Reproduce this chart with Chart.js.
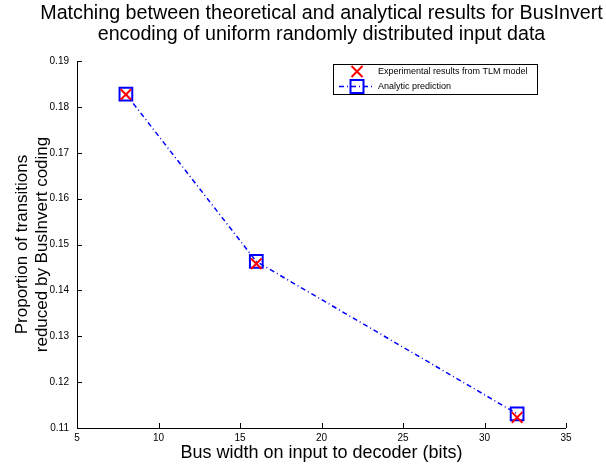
<!DOCTYPE html>
<html>
<head>
<meta charset="utf-8">
<script src="https://cdn.jsdelivr.net/npm/chart.js@4.4.0/dist/chart.umd.min.js"></script>
<style>
html,body{margin:0;padding:0;background:#fff;}
#wrap{width:606px;height:464px;}
</style>
</head>
<body>
<div id="wrap"><canvas id="c" width="606" height="464"></canvas></div>
<script>
const busWidths = [8, 16, 32];
const experimental = [0.1827, 0.1458, 0.1123];
const analytic = [0.1828, 0.1463, 0.1131];
const xTicks = [5, 10, 15, 20, 25, 30, 35];
const yTicks = [0.11, 0.12, 0.13, 0.14, 0.15, 0.16, 0.17, 0.18, 0.19];
const titleLines = ['Matching between theoretical and analytical results for BusInvert', 'encoding of uniform randomly distributed input data'];
const xLabel = 'Bus width on input to decoder (bits)';
const yLabel = ['Proportion of transitions', 'reduced by BusInvert coding'];
const legendLabels = ['Experimental results from TLM model', 'Analytic prediction'];

const FONT = 'Liberation Sans, Arial, Helvetica, sans-serif';

const decorations = {
  id: 'decorations',
  afterDraw(chart) {
    const {ctx, chartArea: a, scales: {x, y}} = chart;
    ctx.save();
    // title centred over the axes
    ctx.fillStyle = '#000';
    ctx.font = '19.7px ' + FONT;
    ctx.textAlign = 'center';
    ctx.textBaseline = 'middle';
    const cx = (a.left + a.right) / 2;
    ctx.fillText(titleLines[0], cx, 14);
    ctx.fillText(titleLines[1], cx, 34.5);

    ctx.strokeStyle = '#000';
    ctx.lineWidth = 1;
    ctx.beginPath();
    ctx.moveTo(a.left + 0.5, a.top);
    ctx.lineTo(a.left + 0.5, a.bottom + 0.5);
    ctx.lineTo(a.right, a.bottom + 0.5);
    xTicks.forEach(v => {
      const px = Math.round(x.getPixelForValue(v)) + 0.5;
      ctx.moveTo(px, a.bottom);
      ctx.lineTo(px, a.bottom - 5);
    });
    yTicks.forEach(v => {
      const py = Math.round(y.getPixelForValue(v)) + 0.5;
      ctx.moveTo(a.left, py);
      ctx.lineTo(a.left + 5, py);
    });
    ctx.stroke();
    // legend
    const lx = 333, ly = 64, lw = 204, lh = 30;
    ctx.fillStyle = '#fff';
    ctx.fillRect(lx, ly, lw, lh);
    ctx.strokeRect(lx + 0.5, ly + 0.5, lw, lh);
    ctx.font = '9px ' + FONT;
    ctx.fillStyle = '#000';
    ctx.textBaseline = 'middle';
    ctx.textAlign = 'left';
    const r1 = ly + 7.5, r2 = ly + 22.5;
    const mx = lx + 24;
    ctx.strokeStyle = '#ff0000';
    ctx.lineWidth = 2;
    ctx.beginPath();
    ctx.moveTo(mx - 5.5, r1 - 5.5); ctx.lineTo(mx + 5.5, r1 + 5.5);
    ctx.moveTo(mx + 5.5, r1 - 5.5); ctx.lineTo(mx - 5.5, r1 + 5.5);
    ctx.stroke();
    ctx.strokeStyle = '#0000ff';
    ctx.lineWidth = 1.5;
    ctx.setLineDash([5, 3, 1, 3]);
    ctx.beginPath();
    ctx.moveTo(lx + 6, r2); ctx.lineTo(lx + 42, r2);
    ctx.stroke();
    ctx.setLineDash([]);
    ctx.lineWidth = 2;
    ctx.strokeRect(mx - 6.5, r2 - 6.5, 13, 13);
    ctx.fillText(legendLabels[0], lx + 45, r1 + 0.5);
    ctx.fillText(legendLabels[1], lx + 45, r2);
    ctx.restore();
  }
};

new Chart(document.getElementById('c'), {
  type: 'scatter',
  data: {
    datasets: [
      {
        label: legendLabels[1],
        data: busWidths.map((b, i) => ({x: b, y: analytic[i]})),
        showLine: true,
        borderColor: '#0000ff',
        borderWidth: 1.5,
        borderDash: [5, 3, 1, 3],
        pointStyle: 'rect',
        pointRadius: 9,
        pointBorderWidth: 2,
        pointBorderColor: '#0000ff',
        pointBackgroundColor: 'rgba(0,0,0,0)',
        order: 2
      },
      {
        label: legendLabels[0],
        data: busWidths.map((b, i) => ({x: b, y: experimental[i]})),
        showLine: false,
        pointStyle: 'crossRot',
        pointRadius: 7.5,
        pointBorderWidth: 2,
        pointBorderColor: '#ff0000',
        pointBackgroundColor: '#ff0000',
        order: 1
      }
    ]
  },
  options: {
    responsive: false,
    animation: false,
    clip: false,
    layout: {padding: {left: 0, right: 40, top: 61, bottom: 0}},
    plugins: {
      legend: {display: false},
      tooltip: {enabled: false},
      title: {display: false}
    },
    scales: {
      x: {
        type: 'linear',
        min: 5, max: 35,
        afterBuildTicks: s => { s.ticks = xTicks.map(v => ({value: v})); },
        afterFit: s => { s.height = 36; },
        grid: {display: false, drawTicks: false},
        border: {display: false},
        ticks: {color: '#000', font: {family: FONT, size: 10}, padding: 4, maxRotation: 0, autoSkip: false},
        title: {display: true, text: xLabel, color: '#000', font: {family: FONT, size: 18}, padding: {top: 0, bottom: 0}}
      },
      y: {
        type: 'linear',
        min: 0.11, max: 0.19,
        afterBuildTicks: s => { s.ticks = yTicks.map(v => ({value: v})); },
        afterFit: s => { s.width = 77; },
        grid: {display: false, drawTicks: false},
        border: {display: false},
        ticks: {color: '#000', font: {family: FONT, size: 10}, padding: 8, autoSkip: false,
          callback: v => v.toFixed(2)},
        title: {display: true, text: yLabel, color: '#000', font: {family: FONT, size: 17, lineHeight: 1.15}, padding: {top: 13, bottom: 0}}
      }
    }
  },
  plugins: [decorations]
});
</script>
</body>
</html>
